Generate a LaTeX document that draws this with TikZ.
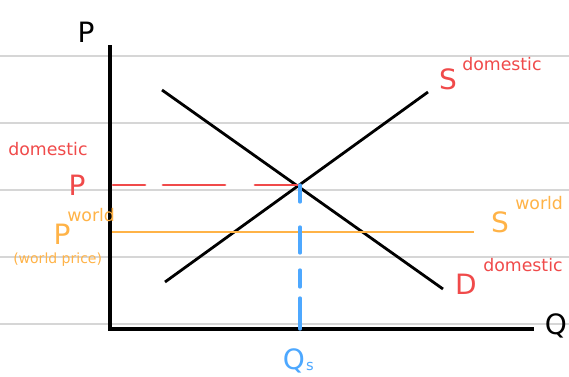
\documentclass[tikz,border=0pt]{standalone}
\usepackage{fontspec}
\setmainfont{DejaVu Sans}
\definecolor{rd}{HTML}{F04A4A}
\definecolor{org}{HTML}{FFB347}
\definecolor{bl}{HTML}{4DA8FF}
\definecolor{grid}{HTML}{D6D6D6}
\begin{document}
\begin{tikzpicture}[x=0.75pt,y=-0.75pt,
  gridline/.style={grid, line width=1.5pt},
  axisline/.style={black, line width=2.5pt},
  curve/.style={black, line width=2.1pt},
  lbl/.style={inner sep=0pt, font=\fontsize{21}{21}\selectfont},
  sup/.style={inner sep=0pt, font=\fontsize{13}{13}\selectfont}]
\useasboundingbox[fill=white] (0,0) rectangle (569,376);
% grid lines
\foreach \yy in {56,123,190,257,324} \draw[gridline] (0,\yy) -- (569,\yy);
% axes
\coordinate (top) at (110,45);
\coordinate (orig) at (110,329);
\coordinate (right) at (534,329);
\draw[axisline] (top) -- (orig) -- (right);
\node[lbl] (P) at (86,32) {P};
\node[lbl] (Q) at (556,326) {Q};
% curves
\coordinate (s1) at (165,282);
\coordinate (s2) at (428,92);
\coordinate (d1) at (162,90);
\coordinate (d2) at (443,289);
\coordinate (eq) at (300,185);
\draw[curve] (s1) -- (s2);
\draw[curve] (d1) -- (d2);
% world price line
\coordinate (w1) at (112,232);
\coordinate (w2) at (474,232);
\draw[org, line width=1.8pt] (w1) -- (w2);
% dashed lines (hand-drawn, irregular dashes)
\coordinate (pd) at (113,185);
\coordinate (qs) at (300,329);
\draw[rd, line width=2.2pt, line cap=round] (pd) -- (145,185) (163,185) -- (225,185) (255,185) -- (eq);
\draw[bl, line width=2.5pt, line cap=round] (eq) -- (300,202) (300,227) -- (300,253) (300,270) -- (300,287) (300,298) -- (qs);
% labels
\node[sup, rd, anchor=west] (dom) at (8,149) {domestic};
\node[lbl, rd] (Pd) at (77,185) {P};
\node[sup, org, anchor=west] (wor) at (67,215) {world};
\node[lbl, org] (Pw) at (62,234) {P};
\node[org, inner sep=0pt, font=\fontsize{10.5}{11}\selectfont, anchor=west] (wp) at (13,260) {(world price)};
\node[lbl, rd] (S1) at (448,79) {S};
\node[sup, rd, anchor=west] (S1s) at (462,64) {domestic};
\node[lbl, org] (S2) at (500,222) {S};
\node[sup, org, anchor=west] (S2s) at (515,203) {world};
\node[lbl, rd] (D) at (466,284) {D};
\node[sup, rd, anchor=west] (Ds) at (483,265) {domestic};
\node[lbl, bl] (Qs) at (294,361) {Q};
\node[bl, inner sep=0pt, font=\fontsize{11}{11}\selectfont] (Qsub) at (310,366) {s};
\end{tikzpicture}
\end{document}
